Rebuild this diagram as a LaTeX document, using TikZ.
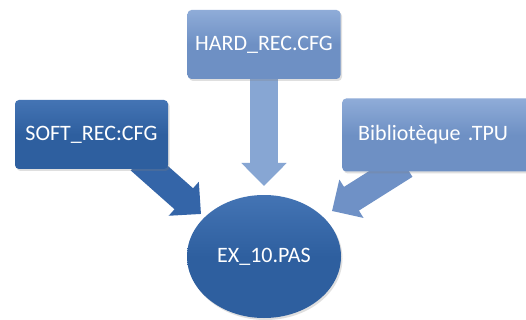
\documentclass[tikz,border=0pt]{standalone}
\usepackage{fontspec}
\setmainfont{Carlito}
\usetikzlibrary{arrows.meta,shadows,shapes.geometric}
\definecolor{darkA}{HTML}{2E5F9F}
\definecolor{darkAtop}{HTML}{4474B4}
\definecolor{lightA}{HTML}{6E90C4}
\definecolor{lightAtop}{HTML}{8FACD8}
\definecolor{arrDark}{HTML}{3465A8}
\definecolor{arrLight}{HTML}{87A6D3}
\definecolor{arrMid}{HTML}{6F91C6}
\tikzset{
  box/.style={rounded corners=4pt, draw=none, font=\fontsize{22}{24}\selectfont, text=white,
    drop shadow={opacity=0.25, shadow xshift=1.5pt, shadow yshift=-2pt}},
  darkbox/.style={box, top color=darkAtop, bottom color=darkA, middle color=darkA},
  lightbox/.style={box, top color=lightAtop, bottom color=lightA, middle color=lightA},
  blockarrow/.style={line width=28pt, -{Triangle[width=44pt,length=23pt]}},
}
\begin{document}
\begin{tikzpicture}[x=1pt,y=-1pt]
\clip (0,0) rectangle (526,320);
\fill[white] (0,0) rectangle (526,320);
% arrows first (behind boxes)
\coordinate (hs) at (264,70);
\coordinate (ht) at (264,186);
\coordinate (ss) at (140,160);
\coordinate (st) at (201,214);
\coordinate (bs) at (405,165);
\coordinate (bt) at (332,211);
\draw[blockarrow, arrLight] (hs) -- (ht);
\draw[blockarrow, arrDark] (ss) -- (st);
\draw[blockarrow, arrMid] (bs) -- (bt);
% boxes
\node[lightbox, minimum width=153pt, minimum height=69pt] (hard) at (264,44.5) {HARD\_REC.CFG};
\node[darkbox, minimum width=153pt, minimum height=69pt] (soft) at (91.5,134.5) {SOFT\_REC:CFG};
\node[lightbox, minimum width=192pt, minimum height=73pt, anchor=west, text width=184pt, align=left] (bib) at (342,135) {\hspace*{12pt}Bibliotèque .TPU};
\node[ellipse, draw=none, minimum width=154pt, minimum height=123pt, top color=darkAtop, bottom color=darkA, middle color=darkA,
  font=\fontsize{22}{24}\selectfont, text=white,
  drop shadow={opacity=0.25, shadow xshift=1.5pt, shadow yshift=-2pt}] (ex) at (264,256.5) {EX\_10.PAS};
\end{tikzpicture}
\end{document}
